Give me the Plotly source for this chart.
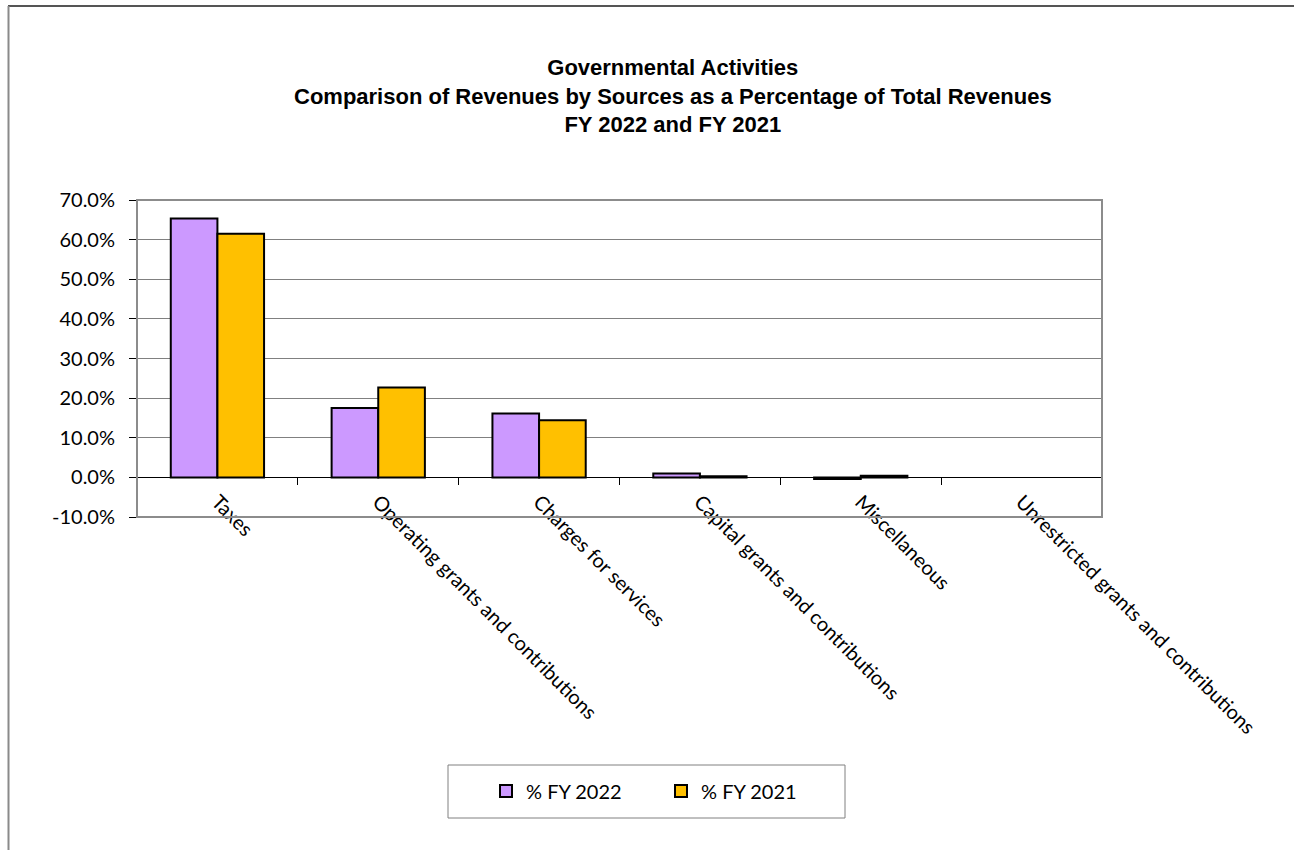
import plotly.graph_objects as go

categories = ["Taxes", "Operating grants and contributions", "Charges for services",
              "Capital grants and contributions", "Miscellaneous",
              "Unrestricted grants and contributions"]
fy2022 = [65.3, 17.5, 16.1, 1.0, -0.4, None]
fy2021 = [61.5, 22.7, 14.4, 0.3, 0.4, None]
series_names = ["% FY 2022", "% FY 2021"]
y_ticks = [-10, 0, 10, 20, 30, 40, 50, 60, 70]
y_tick_text = [f"{v:.1f}%" for v in y_ticks]
title_lines = ["Governmental Activities",
               "Comparison of Revenues by Sources as a Percentage of Total Revenues",
               "FY 2022 and FY 2021"]

W, H = 1294, 850
L, R, T, B = 137, 1102, 200, 517
pw, ph = R - L, B - T

def px_x(x):
    return (x - L) / pw

def px_y(y):
    return (B - y) / ph

fig = go.Figure()
fig.add_trace(go.Bar(x=categories, y=fy2022, name=series_names[0],
                     marker=dict(color="#CC99FF", line=dict(color="black", width=2))))
fig.add_trace(go.Bar(x=categories, y=fy2021, name=series_names[1],
                     marker=dict(color="#FFC000", line=dict(color="black", width=2))))

tick_font = dict(family="Lato, 'Noto Sans', sans-serif", size=20, color="black")

fig.update_layout(
    width=W, height=H,
    margin=dict(l=L, r=W - R, t=T, b=H - B, autoexpand=False),
    paper_bgcolor="white", plot_bgcolor="white",
    barmode="group", bargap=0.42, bargroupgap=0,
    annotations=[dict(
        text="<b>" + "<br>".join(title_lines) + "</b>", showarrow=False,
        xref="paper", yref="paper", x=px_x(673), y=px_y(96),
        xanchor="center", yanchor="middle", align="center",
        font=dict(family="'Liberation Sans', Arial, sans-serif", size=22, color="black"),
    )],
    xaxis=dict(
        type="category",
        anchor="free", position=(0 - (-10)) / 80,
        showline=True, linecolor="black", linewidth=1,
        ticks="outside", tickson="boundaries", ticklen=7, tickcolor="black",
        tickangle=45, tickfont=tick_font, ticklabelstandoff=4,
        showgrid=False,
    ),
    yaxis=dict(
        range=[-10, 70], tickvals=y_ticks, ticktext=y_tick_text,
        showline=True, linecolor="black", linewidth=1,
        ticks="outside", ticklen=7, tickcolor="black", ticklabelstandoff=10,
        showgrid=True, gridcolor="#808080", gridwidth=1,
        zeroline=True, zerolinecolor="black", zerolinewidth=1,
        tickfont=tick_font,
    ),
    legend=dict(
        orientation="h", x=px_x(486), y=px_y(791), xanchor="left", yanchor="middle",
        font=dict(family="Lato, 'Noto Sans', sans-serif", size=20, color="black"),
        bgcolor="rgba(0,0,0,0)", borderwidth=0,
        entrywidth=130, entrywidthmode="pixels",
    ),
    showlegend=True,
    shapes=[
        dict(type="rect", xref="paper", yref="paper", x0=0, y0=0, x1=1, y1=1,
             line=dict(color="#8c8c8c", width=2), layer="above"),
        dict(type="line", xref="paper", yref="paper",
             x0=px_x(8), y0=px_y(6), x1=px_x(1300), y1=px_y(6),
             line=dict(color="#555555", width=2)),
        dict(type="line", xref="paper", yref="paper",
             x0=px_x(8.5), y0=px_y(6), x1=px_x(8.5), y1=px_y(860),
             line=dict(color="#8a8a8a", width=2)),
        dict(type="rect", xref="paper", yref="paper",
             x0=px_x(448), y0=px_y(765), x1=px_x(845), y1=px_y(818),
             line=dict(color="#808080", width=1)),
    ],
)

fig.write_html("out.html")
